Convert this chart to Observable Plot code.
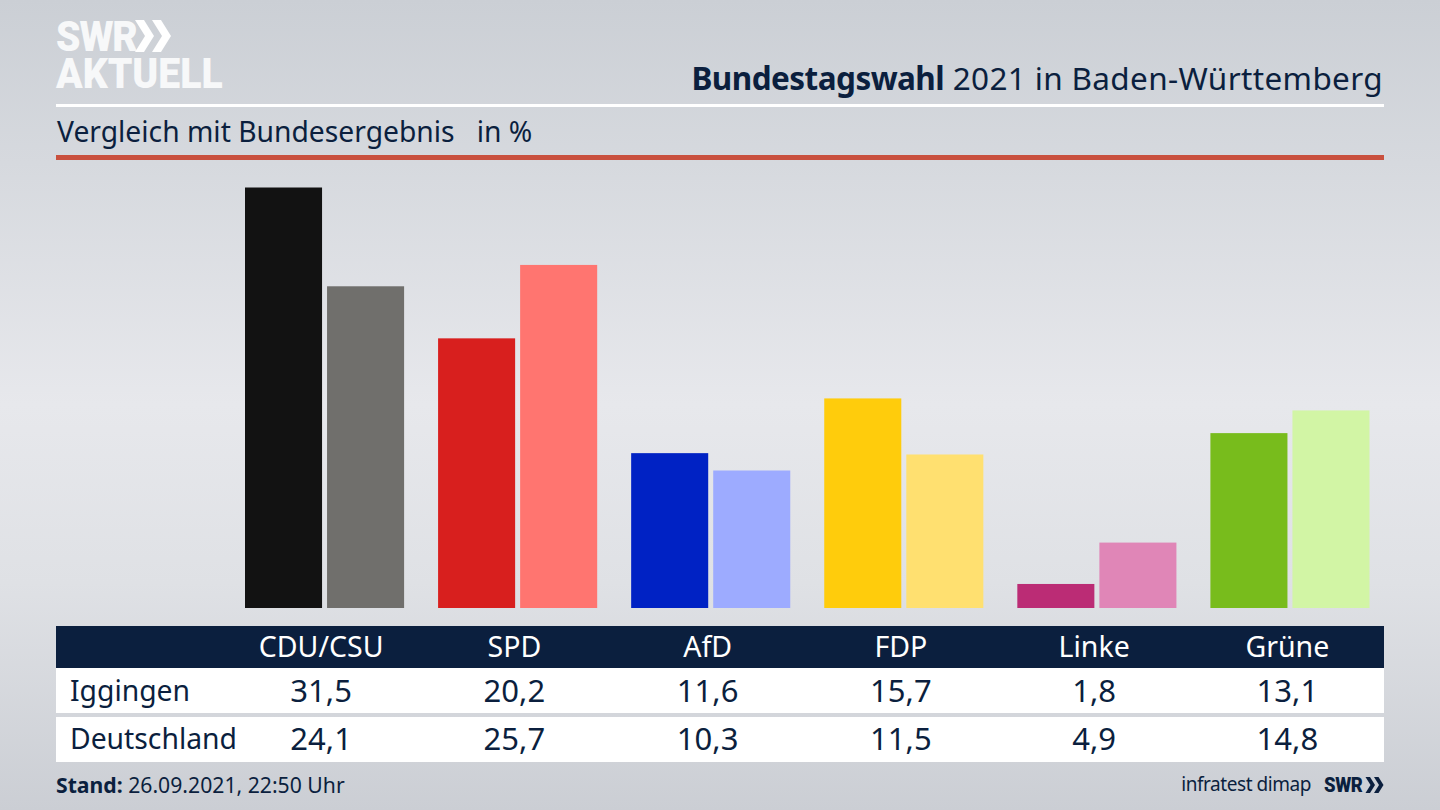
<!DOCTYPE html>
<html lang="de">
<head>
<meta charset="utf-8">
<script src="https://cdn.jsdelivr.net/npm/d3@7"></script>
<script src="https://cdn.jsdelivr.net/npm/@observablehq/plot@0.6"></script>
<style>
html,body{margin:0;padding:0;width:1440px;height:810px;overflow:hidden}
body{position:relative;font-family:"Noto Sans",sans-serif;color:#0b1f3e;
background:linear-gradient(180deg,#cbcfd5 0%,#d6d9de 20%,#e7e8ec 50%,#dfe1e5 72%,#cbced4 100%)}
.abs{position:absolute;white-space:pre;line-height:1}
#chart{position:absolute;left:0;top:0}
#table{position:absolute;left:56px;top:626px;width:1328px;display:grid;
grid-template-columns:168.5px repeat(6,1fr);grid-template-rows:42px 45px 45px;row-gap:0}
#table div{display:flex;align-items:center;justify-content:center;white-space:pre;box-sizing:border-box}
#table .h{background:#0b1f3e;color:#fff;font-size:28.5px;padding-bottom:2px}
#table .v{background:#fff;font-size:31px;padding-bottom:2px}
#table .l{justify-content:flex-start;padding-left:14px;font-size:28.3px;position:relative;z-index:1}
#table .r2{margin-top:4px;height:45px;padding-bottom:3px}
#title b{letter-spacing:-.55px}
#title span{letter-spacing:.35px}
</style>
</head>
<body>
<div id="chart"></div>
<div class="abs" style="left:56px;top:18px;font:900 43px/36.5px Roboto;color:#f7f8f9;transform:scaleX(.91);transform-origin:left"><span style="letter-spacing:-1.2px">SWR</span>
AKTUELL</div>
<svg class="abs" style="left:135px;top:20px" width="36" height="32" viewBox="0 0 36 32"><path fill="#fff" d="M0 0h9l10 16-10 16H0l10-16zM17 0h9l10 16-10 16h-9l10-16z"/></svg>
<div class="abs" id="title" style="right:57px;top:62px;font-size:31.5px"></div>
<div class="abs" style="left:56px;top:104px;width:1328px;height:3px;background:#fff"></div>
<div class="abs" id="sub" style="left:57px;top:117px;font-size:28.25px"></div>
<div class="abs" style="left:56px;top:155px;width:1328px;height:5px;background:#c9503e"></div>
<div id="table"></div>
<div class="abs" id="stand" style="left:56px;top:774px;font-size:21.2px"></div>
<div class="abs" id="src" style="right:129px;top:775px;font-size:19px;letter-spacing:-.45px"></div>
<div class="abs" style="left:1324px;top:775px;font:900 21px/1 Roboto;letter-spacing:-.5px;transform:scaleX(.88);transform-origin:left">SWR</div>
<svg class="abs" style="left:1365px;top:777px" width="19" height="16" viewBox="0 0 36 32"><path fill="#0b1f3e" d="M0 0h9l10 16-10 16H0l10-16zM17 0h9l10 16-10 16h-9l10-16z"/></svg>
<script>
const parties = ["CDU/CSU", "SPD", "AfD", "FDP", "Linke", "Grüne"];
const regions = ["Iggingen", "Deutschland"];
const iggingen = [31.5, 20.2, 11.6, 15.7, 1.8, 13.1];
const deutschland = [24.1, 25.7, 10.3, 11.5, 4.9, 14.8];
const coloursMain = ["#121212", "#d81f1e", "#0022c4", "#ffcc0c", "#bb2c75", "#78bc1c"];
const coloursLight = ["#706f6c", "#ff7570", "#9dabff", "#ffe070", "#e086b7", "#d2f5a5"];
const titleBold = "Bundestagswahl";
const titleRest = " 2021 in Baden-Württemberg";
const subtitle = "Vergleich mit Bundesergebnis   in %";
const standLabel = "Stand:";
const standText = " 26.09.2021, 22:50 Uhr";
const sourceText = "infratest dimap";

const rows = parties.flatMap((party, i) => [
  {party, region: regions[0], value: iggingen[i], colour: coloursMain[i]},
  {party, region: regions[1], value: deutschland[i], colour: coloursLight[i]}
]);

const plot = Plot.plot({
  width: 1440,
  height: 620,
  marginTop: 187.5,
  marginBottom: 12,
  marginLeft: 245,
  marginRight: 70.5,
  style: {background: "transparent"},
  fx: {domain: parties, axis: null, paddingInner: 0.176, paddingOuter: 0, round: false, label: null},
  x: {domain: regions, axis: null, paddingInner: 0.061, paddingOuter: 0, round: false, label: null},
  y: {domain: [0, 31.5], axis: null, label: null},
  color: {type: "identity"},
  marks: [
    Plot.barY(rows, {fx: "party", x: "region", y: "value", fill: "colour", title: d => `${d.party} ${d.region}: ${d.value}`})
  ]
});
document.getElementById("chart").append(plot);

document.getElementById("title").innerHTML = `<b>${titleBold}</b><span>${titleRest}</span>`;
document.getElementById("sub").textContent = subtitle;
document.getElementById("stand").innerHTML = `<b>${standLabel}</b>${standText}`;
document.getElementById("src").textContent = sourceText;

const fmt = v => v.toFixed(1).replace(".", ",");
const table = document.getElementById("table");
const cell = (text, cls) => {
  const d = document.createElement("div");
  d.className = cls;
  d.textContent = text;
  table.append(d);
};
cell("", "h");
parties.forEach(p => cell(p, "h"));
cell(regions[0], "v l");
iggingen.forEach(v => cell(fmt(v), "v"));
cell(regions[1], "v l r2");
deutschland.forEach(v => cell(fmt(v), "v r2"));
</script>
</body>
</html>
